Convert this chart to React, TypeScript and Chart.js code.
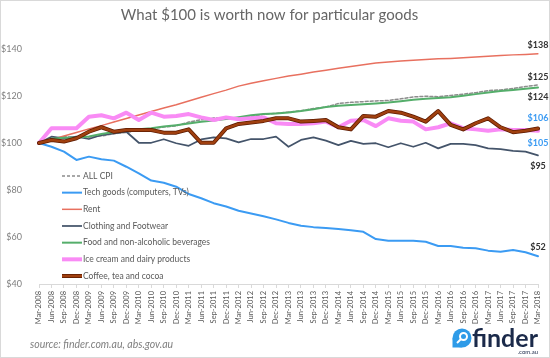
import React, { useEffect, useRef } from "react";
import { Chart, registerables } from "chart.js";

Chart.register(...registerables);

const TITLE = "What $100 is worth now for particular goods";
const SOURCE = "source: finder.com.au, abs.gov.au";
const FONT = 'Lato, "Open Sans", sans-serif';

const categories = [
  "Mar-2008", "Jun-2008", "Sep-2008", "Dec-2008",
  "Mar-2009", "Jun-2009", "Sep-2009", "Dec-2009",
  "Mar-2010", "Jun-2010", "Sep-2010", "Dec-2010",
  "Mar-2011", "Jun-2011", "Sep-2011", "Dec-2011",
  "Mar-2012", "Jun-2012", "Sep-2012", "Dec-2012",
  "Mar-2013", "Jun-2013", "Sep-2013", "Dec-2013",
  "Mar-2014", "Jun-2014", "Sep-2014", "Dec-2014",
  "Mar-2015", "Jun-2015", "Sep-2015", "Dec-2015",
  "Mar-2016", "Jun-2016", "Sep-2016", "Dec-2016",
  "Mar-2017", "Jun-2017", "Sep-2017", "Dec-2017",
  "Mar-2018",
];

const yTicks = [40, 60, 80, 100, 120, 140];

const allCpi = [
  100, 101.5, 102.7, 102.3, 102.5, 103.0, 103.9, 104.5, 105.4, 106.1,
  106.8, 107.3, 108.9, 109.9, 110.6, 110.6, 110.7, 111.2, 112.2, 112.6,
  113.2, 113.7, 114.7, 115.3, 116.8, 117.3, 117.6, 117.9, 118.1, 118.8,
  119.6, 119.9, 119.7, 120.2, 120.8, 121.4, 122.3, 122.6, 123.2, 124.0,
  124.7,
];

const tech = [
  100, 98.4, 96.3, 92.8, 94.2, 93.1, 92.5, 89.9, 87.1, 84.0,
  83.1, 81.4, 78.3, 76.5, 74.4, 73.0, 71.2, 70.0, 68.8, 67.5,
  66.0, 64.8, 64.2, 63.8, 63.4, 62.9, 62.2, 59.1, 58.4, 58.4,
  58.4, 58.0, 56.2, 56.2, 55.4, 55.2, 54.2, 53.7, 54.5, 53.5,
  51.8,
];

const rent = [
  100, 101.5, 103.0, 104.5, 106.0, 107.4, 108.9, 110.4, 111.9, 113.4,
  114.9, 116.3, 117.9, 119.5, 121.0, 122.5, 124.2, 125.4, 126.5, 127.5,
  128.5, 129.3, 130.2, 131.0, 131.8, 132.6, 133.3, 134.0, 134.5, 134.9,
  135.2, 135.5, 135.8, 136.0, 136.3, 136.6, 136.9, 137.2, 137.5, 137.7,
  138.0,
];

const clothing = [
  100, 102.7, 102.0, 102.7, 101.7, 103.4, 104.1, 104.8, 100.1, 100.1,
  101.6, 99.9, 98.8, 101.5, 102.4, 102.0, 100.3, 101.7, 101.7, 102.7,
  98.4, 101.3, 102.4, 101.0, 99.1, 100.9, 99.6, 99.9, 98.2, 99.9,
  98.4, 100.1, 97.7, 99.6, 99.6, 99.1, 97.7, 97.4, 96.6, 96.3,
  94.7,
];

const food = [
  100, 101.8, 102.2, 102.3, 102.8, 103.8, 104.7, 105.2, 105.9, 106.3,
  107.0, 107.6, 108.3, 109.0, 109.6, 110.2, 111.0, 111.8, 112.3, 112.6,
  113.0, 113.6, 114.4, 115.3, 115.8, 116.2, 116.5, 116.8, 117.2, 117.8,
  118.4, 118.8, 119.1, 119.5, 120.1, 120.8, 121.5, 122.1, 122.6, 123.1,
  123.6,
];

const iceCream = [
  100, 106.3, 106.3, 106.3, 111.2, 111.8, 110.5, 112.9, 109.8, 112.9,
  111.2, 111.5, 112.3, 110.9, 109.8, 110.9, 110.1, 110.5, 110.9, 108.4,
  108.1, 108.1, 108.4, 109.1, 106.7, 109.5, 109.8, 107.2, 110.5, 109.5,
  109.1, 105.8, 106.7, 108.4, 106.3, 105.8, 105.2, 105.8, 105.5, 105.5,
  105.2,
];

const coffee = [
  100, 101.3, 100.6, 102.0, 104.8, 106.7, 104.8, 105.5, 105.5, 105.5,
  104.4, 104.4, 105.8, 100.1, 100.1, 106.2, 108.1, 108.7, 109.4, 110.5,
  110.5, 109.1, 109.4, 109.8, 106.7, 105.8, 111.5, 111.2, 113.6, 112.9,
  111.2, 109.1, 113.6, 107.7, 105.8, 108.4, 110.5, 106.7, 104.6, 105.2,
  106.2,
];

const bgPlugin = {
  id: "bgPlugin",
  beforeDraw(chart: any) {
    const { ctx, width, height } = chart;
    ctx.save();
    ctx.fillStyle = "#ffffff";
    ctx.fillRect(0, 0, width, height);
    ctx.strokeStyle = "#D9D9D9";
    ctx.lineWidth = 1;
    ctx.strokeRect(0.5, 0.5, width - 1, height - 1);
    ctx.restore();
  },
};

const legendPlugin = {
  id: "insideLegend",
  afterDatasetsDraw(chart: any) {
    const { ctx, chartArea } = chart;
    const items = chart.data.datasets.filter((d: any) => !d.isOutline);
    const step = 16.67;
    const x0 = chartArea.left + 23;
    const x1 = x0 + 20;
    ctx.save();
    items.forEach((d: any, k: number) => {
      const y = chartArea.bottom - 8 - (items.length - 1 - k) * step;
      ctx.setLineDash(d.borderDash || []);
      if (d.legendOutline) {
        ctx.strokeStyle = d.legendOutline;
        ctx.lineWidth = d.borderWidth + 1.5;
        ctx.beginPath();
        ctx.moveTo(x0, y);
        ctx.lineTo(x1, y);
        ctx.stroke();
      }
      ctx.strokeStyle = d.borderColor;
      ctx.lineWidth = d.borderWidth;
      ctx.beginPath();
      ctx.moveTo(x0, y);
      ctx.lineTo(x1, y);
      ctx.stroke();
      ctx.setLineDash([]);
      ctx.fillStyle = "#595959";
      ctx.font = `8.5px ${FONT}`;
      ctx.textAlign = "left";
      ctx.textBaseline = "middle";
      ctx.fillText(d.label, x1 + 1, y);
    });
    ctx.restore();
  },
};

const endLabelPlugin = {
  id: "endLabels",
  afterDatasetsDraw(chart: any) {
    const { ctx } = chart;
    ctx.save();
    chart.data.datasets.forEach((d: any, i: number) => {
      if (!d.endLabel) return;
      const meta = chart.getDatasetMeta(i);
      const pt = meta.data[meta.data.length - 1];
      const v = d.data[d.data.length - 1];
      ctx.fillStyle = d.endLabel.color;
      ctx.font = `bold 9px ${FONT}`;
      ctx.textAlign = "center";
      ctx.textBaseline = "middle";
      ctx.fillText("$" + Math.round(v), pt.x, pt.y + d.endLabel.dy);
    });
    ctx.restore();
  },
};

const footerPlugin = {
  id: "footer",
  afterDraw(chart: any) {
    const { ctx } = chart;
    ctx.save();
    ctx.fillStyle = "#7F7F7F";
    ctx.font = `italic 10.5px ${FONT}`;
    ctx.textAlign = "left";
    ctx.textBaseline = "middle";
    ctx.fillText(SOURCE, 30, 345);

    // finder logo
    ctx.fillStyle = "#2E9BE8";
    ctx.beginPath();
    ctx.arc(462, 338, 9.5, 0, Math.PI * 2);
    ctx.fill();
    ctx.beginPath();
    ctx.moveTo(452.5, 338);
    ctx.lineTo(452.5, 347.5);
    ctx.lineTo(462, 347.5);
    ctx.closePath();
    ctx.fill();
    ctx.strokeStyle = "#ffffff";
    ctx.lineWidth = 2;
    ctx.beginPath();
    ctx.arc(463.5, 336.5, 3.5, 0, Math.PI * 2);
    ctx.stroke();
    ctx.beginPath();
    ctx.moveTo(461, 339);
    ctx.lineTo(457, 343);
    ctx.stroke();

    ctx.fillStyle = "#1B2A4A";
    ctx.font = `bold 25px ${FONT}`;
    ctx.textAlign = "left";
    ctx.textBaseline = "alphabetic";
    ctx.fillText("finder", 472, 347);
    ctx.font = `6px ${FONT}`;
    ctx.textAlign = "right";
    ctx.fillText(".com.au", 538, 354);
    ctx.restore();
  },
};

export default function App() {
  const ref = useRef<HTMLCanvasElement | null>(null);

  useEffect(() => {
    if (!ref.current) return;
    const datasets: any[] = [
      { label: "ALL CPI", data: allCpi, borderColor: "#8C8C8C", borderWidth: 1.5, borderDash: [3, 2], order: 8, endLabel: { dy: -7.5, color: "#333333" } },
      { label: "Tech goods (computers, TVs)", data: tech, borderColor: "#3B9BF3", borderWidth: 2, order: 7, endLabel: { dy: -9.5, color: "#333333" } },
      { label: "Rent", data: rent, borderColor: "#E8705F", borderWidth: 1.5, order: 6, endLabel: { dy: -9, color: "#333333" } },
      { label: "Clothing and Footwear", data: clothing, borderColor: "#44546A", borderWidth: 1.75, order: 5, endLabel: { dy: 11, color: "#333333" } },
      { label: "Food and non-alcoholic beverages", data: food, borderColor: "#55AE6B", borderWidth: 2, order: 4, endLabel: { dy: 10, color: "#333333" } },
      { label: "Ice cream and dairy products", data: iceCream, borderColor: "#F98BF5", borderWidth: 4, order: 3, endLabel: { dy: 12, color: "#3B9BF3" } },
      { label: "Coffee, tea and cocoa", data: coffee, borderColor: "#A0400F", borderWidth: 2.5, order: 1, legendOutline: "#5C1A00", endLabel: { dy: -10.5, color: "#3B9BF3" } },
      { label: "coffee-outline", isOutline: true, data: coffee, borderColor: "#5C1A00", borderWidth: 4, order: 2 },
    ];

    const chart = new Chart(ref.current, {
      type: "line",
      data: { labels: categories, datasets },
      options: {
        animation: false,
        responsive: false,
        devicePixelRatio: 1,
        layout: { padding: { left: 0, right: 11, top: 0, bottom: 0 } },
        elements: {
          point: { radius: 0, hoverRadius: 0 },
          line: { tension: 0, borderJoinStyle: "round", borderCapStyle: "round" },
        },
        plugins: {
          legend: { display: false },
          tooltip: { enabled: false },
          title: {
            display: true,
            text: TITLE,
            color: "#666666",
            font: { family: FONT, size: 15, weight: "normal", lineHeight: 1.25 },
            padding: { top: 6, bottom: 24.25 },
          },
        },
        scales: {
          x: {
            type: "category",
            offset: false,
            grid: { display: true, drawOnChartArea: false, color: "#D9D9D9", tickLength: 4 },
            border: { display: true, color: "#D9D9D9" },
            ticks: {
              autoSkip: false,
              minRotation: 90,
              maxRotation: 90,
              padding: 3,
              color: "#595959",
              font: { family: FONT, size: 7.5 },
            },
            afterFit: (s: any) => {
              s.height = 74;
            },
          },
          y: {
            min: yTicks[0],
            max: yTicks[yTicks.length - 1],
            grid: { display: false },
            border: { display: false },
            ticks: {
              stepSize: 20,
              padding: 9,
              color: "#7F7F7F",
              font: { family: FONT, size: 9 },
              callback: (v: any) => "$" + v,
            },
            afterFit: (s: any) => {
              s.width = 39;
            },
          },
        },
      } as any,
      plugins: [bgPlugin, legendPlugin, endLabelPlugin, footerPlugin],
    });
    return () => chart.destroy();
  }, []);

  return (
    <div style={{ position: "fixed", left: 0, top: 0, width: 550, height: 358 }}>
      <canvas ref={ref} width={550} height={358} style={{ display: "block", width: 550, height: 358 }} />
    </div>
  );
}
